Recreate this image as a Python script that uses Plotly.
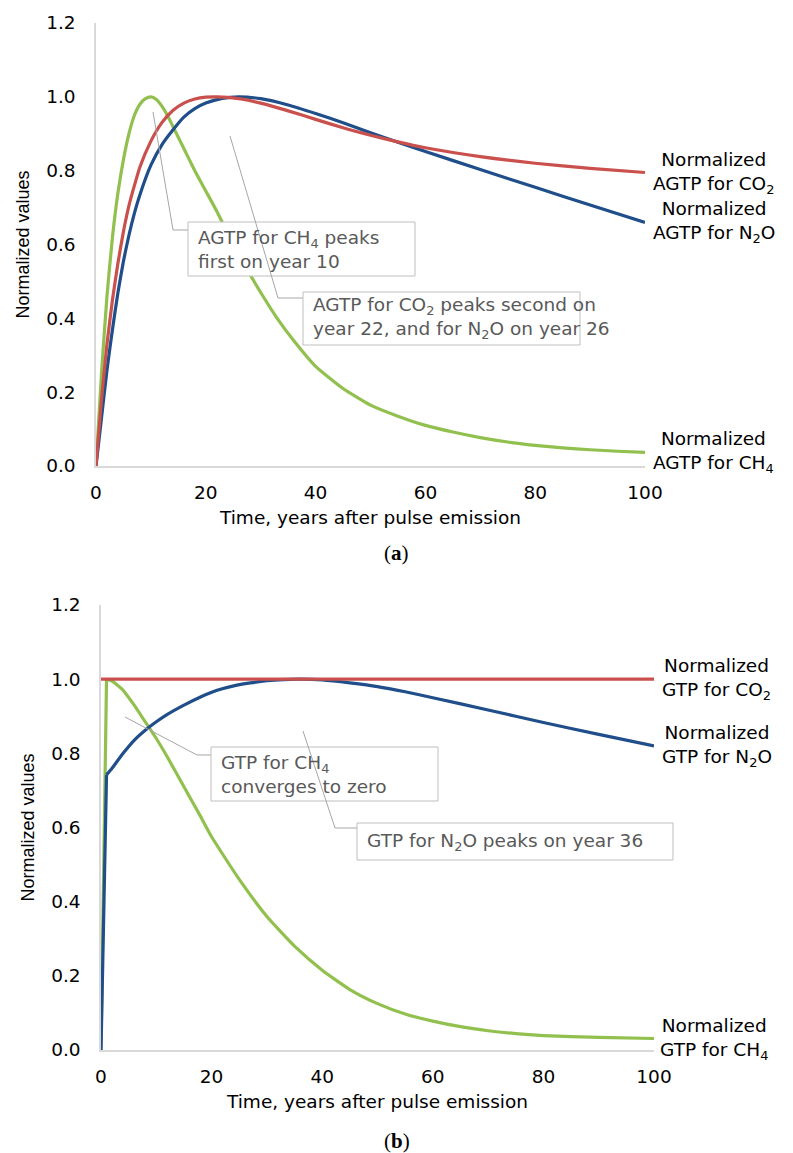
import plotly.graph_objects as go

W, H = 793, 1153

# ---------------- data ----------------
# (a) AGTP, normalized
agtp_ch4_t = [0, 1, 2, 3, 4, 5, 6, 7, 8, 9, 10, 11, 12, 13, 14, 16, 18, 20, 22, 25, 28, 30, 33, 36, 40, 45, 50, 55, 60, 65, 70, 75, 80, 85, 90, 95, 100]
agtp_ch4 = [0, 0.25, 0.46, 0.62, 0.74, 0.83, 0.90, 0.95, 0.98, 0.995, 1.0, 0.993, 0.975, 0.95, 0.92, 0.86, 0.80, 0.745, 0.69, 0.60, 0.52, 0.47, 0.40, 0.34, 0.27, 0.21, 0.165, 0.135, 0.11, 0.092, 0.077, 0.065, 0.056, 0.049, 0.044, 0.040, 0.037]

agtp_co2_t = [0, 1, 2, 3, 4, 5, 6, 7, 8, 10, 12, 14, 16, 18, 20, 22, 26, 30, 35, 40, 45, 50, 55, 60, 70, 80, 90, 100]
agtp_co2 = [0, 0.18, 0.33, 0.45, 0.55, 0.635, 0.705, 0.76, 0.81, 0.88, 0.93, 0.963, 0.983, 0.994, 0.999, 1.0, 0.995, 0.983, 0.962, 0.939, 0.916, 0.896, 0.878, 0.862, 0.838, 0.82, 0.806, 0.795]

agtp_n2o_t = [0, 1, 2, 3, 4, 5, 6, 7, 8, 10, 12, 14, 16, 18, 20, 23, 26, 30, 35, 40, 45, 50, 55, 60, 70, 80, 90, 100]
agtp_n2o = [0, 0.13, 0.26, 0.37, 0.47, 0.555, 0.625, 0.685, 0.735, 0.815, 0.87, 0.91, 0.945, 0.968, 0.983, 0.996, 1.0, 0.995, 0.978, 0.955, 0.93, 0.903, 0.877, 0.852, 0.803, 0.755, 0.707, 0.66]

# (b) GTP, normalized
gtp_co2_t = [0, 100]
gtp_co2 = [1.0, 1.0]

gtp_n2o_t = [0, 1, 2, 4, 6, 8, 10, 12, 15, 18, 21, 24, 27, 30, 33, 36, 40, 45, 50, 55, 60, 70, 80, 90, 100]
gtp_n2o = [0, 0.742, 0.76, 0.80, 0.835, 0.862, 0.885, 0.905, 0.93, 0.952, 0.97, 0.982, 0.99, 0.996, 0.999, 1.0, 0.998, 0.99, 0.98, 0.966, 0.95, 0.917, 0.883, 0.851, 0.82]

gtp_ch4_t = [0, 1, 2, 4, 6, 8, 10, 12, 15, 18, 20, 25, 30, 35, 40, 45, 50, 55, 60, 65, 70, 75, 80, 90, 100]
gtp_ch4 = [0, 1.0, 0.995, 0.97, 0.93, 0.885, 0.84, 0.79, 0.71, 0.63, 0.575, 0.46, 0.36, 0.28, 0.215, 0.163, 0.125, 0.097, 0.078, 0.063, 0.052, 0.044, 0.039, 0.034, 0.031]

x_ticks = [0, 20, 40, 60, 80, 100]
y_ticks = [0, 0.2, 0.4, 0.6, 0.8, 1.0, 1.2]

# ---------------- style ----------------
RED = "#C9504C"
BLUE = "#1F4E8A"
GREEN = "#92C04E"
GRAY_TXT = "#595959"
LEAD = "#A6A6A6"
AXIS = "#D9D9D9"
FONT = "DejaVu Sans, Arial, sans-serif"
FONT_V = "Liberation Sans, Arial, sans-serif"
FS = 18.5


def px(x):
    return x / W


def py(y):
    return 1 - y / H


fig = go.Figure()

LW = 3.2
SP = dict(shape="spline", smoothing=0.5)
fig.add_trace(go.Scatter(x=agtp_ch4_t, y=agtp_ch4, mode="lines", line=dict(color=GREEN, width=LW, **SP), xaxis="x", yaxis="y", hoverinfo="skip"))
fig.add_trace(go.Scatter(x=agtp_n2o_t, y=agtp_n2o, mode="lines", line=dict(color=BLUE, width=LW, **SP), xaxis="x", yaxis="y", hoverinfo="skip"))
fig.add_trace(go.Scatter(x=agtp_co2_t, y=agtp_co2, mode="lines", line=dict(color=RED, width=LW, **SP), xaxis="x", yaxis="y", hoverinfo="skip"))

# (b): sharp initial jump drawn straight, the remainder smoothed
for tt, vv, col in [(gtp_ch4_t, gtp_ch4, GREEN), (gtp_n2o_t, gtp_n2o, BLUE)]:
    fig.add_trace(go.Scatter(x=tt[:2], y=vv[:2], mode="lines", line=dict(color=col, width=LW), xaxis="x2", yaxis="y2", hoverinfo="skip"))
    fig.add_trace(go.Scatter(x=tt[1:], y=vv[1:], mode="lines", line=dict(color=col, width=LW, **SP), xaxis="x2", yaxis="y2", hoverinfo="skip"))
fig.add_trace(go.Scatter(x=gtp_co2_t, y=gtp_co2, mode="lines", line=dict(color=RED, width=LW), xaxis="x2", yaxis="y2", hoverinfo="skip"))


def xax(domain, anchor):
    return dict(domain=domain, anchor=anchor, range=[0, 100], tickvals=x_ticks,
                showgrid=False, zeroline=False, showline=True, linecolor=AXIS, linewidth=1.5,
                ticks="", ticklabelstandoff=9, tickfont=dict(family=FONT, size=FS, color="black"),
                title=dict(text="Time, years after pulse emission", font=dict(family=FONT, size=FS, color="black"), standoff=9),
                automargin=False, fixedrange=True)


def yax(domain, anchor):
    return dict(domain=domain, anchor=anchor, range=[0, 1.2], tickvals=y_ticks, tickformat=".1f",
                showgrid=False, zeroline=False, showline=True, linecolor=AXIS, linewidth=1.5,
                ticks="", ticklabelstandoff=15, tickfont=dict(family=FONT, size=FS, color="black"),
                title=dict(text="Normalized values", font=dict(family=FONT_V, size=18, color="black"), standoff=12),
                automargin=False, fixedrange=True)


fig.update_layout(
    width=W, height=H, margin=dict(l=0, r=0, t=0, b=0),
    paper_bgcolor="white", plot_bgcolor="white", showlegend=False,
    xaxis=xax([px(96), px(645)], "y"),
    yaxis=yax([py(466), py(23)], "x"),
    xaxis2=xax([px(101), px(654)], "y2"),
    yaxis2=yax([py(1050), py(605)], "x2"),
)

annotations = []
shapes = []

# series end labels
end_labels = [
    ("x", "y", agtp_co2[-1], "Normalized<br>AGTP for CO<sub>2</sub>", 6),
    ("x", "y", agtp_n2o[-1], "Normalized<br>AGTP for N<sub>2</sub>O", 6),
    ("x", "y", agtp_ch4[-1], "Normalized<br>AGTP for CH<sub>4</sub>", 6),
    ("x2", "y2", gtp_co2[-1], "Normalized<br>GTP for CO<sub>2</sub>", 6),
    ("x2", "y2", gtp_n2o[-1], "Normalized<br>GTP for N<sub>2</sub>O", 6),
    ("x2", "y2", gtp_ch4[-1], "Normalized<br>GTP for CH<sub>4</sub>", 4),
]
for xr, yr, v, txt, xs in end_labels:
    annotations.append(dict(xref=xr, yref=yr, x=100, y=v, text=txt, showarrow=False,
                            xanchor="left", yanchor="middle", xshift=xs, align="center",
                            font=dict(family=FONT, size=FS, color="black")))

# call-out boxes: (left, top, right, bottom) in pixels, leader path in pixels, text
callouts = [
    ((188, 222, 415, 276), [(153, 112), (173, 230), (188, 230)], "AGTP for CH<sub>4</sub> peaks<br>first on year 10"),
    ((303, 292, 580, 345), [(230, 136), (278, 298), (303, 298)], "AGTP for CO<sub>2</sub> peaks second on<br>year 22, and for N<sub>2</sub>O on year 26"),
    ((211, 747, 438, 801), [(125, 717), (197, 755), (211, 755)], "GTP for CH<sub>4</sub><br>converges to zero"),
    ((357, 823, 673, 860), [(303, 731), (335, 828), (357, 828)], "GTP for N<sub>2</sub>O peaks on year 36"),
]
for (l, t, r, b), path, txt in callouts:
    d = "M " + " L ".join(f"{px(a):.5f},{py(c):.5f}" for a, c in path)
    shapes.append(dict(type="path", xref="paper", yref="paper", path=d, line=dict(color=LEAD, width=1)))
    shapes.append(dict(type="rect", xref="paper", yref="paper", x0=px(l), x1=px(r), y0=py(b), y1=py(t),
                       line=dict(color="#BFBFBF", width=1), fillcolor="white"))
    annotations.append(dict(xref="paper", yref="paper", x=px(l + 8), y=py((t + b) / 2), text=txt,
                            showarrow=False, xanchor="left", yanchor="middle", align="left",
                            font=dict(family=FONT, size=FS, color=GRAY_TXT)))

# panel captions
annotations.append(dict(xref="paper", yref="paper", x=0.5, y=py(553), text="(<b>a</b>)", showarrow=False,
                        xanchor="center", yanchor="middle", font=dict(family="Liberation Serif, serif", size=21, color="black")))
annotations.append(dict(xref="paper", yref="paper", x=0.5, y=py(1141), text="(<b>b</b>)", showarrow=False,
                        xanchor="center", yanchor="middle", font=dict(family="Liberation Serif, serif", size=21, color="black")))

fig.update_layout(annotations=annotations, shapes=shapes)

fig.write_html("out.html")
